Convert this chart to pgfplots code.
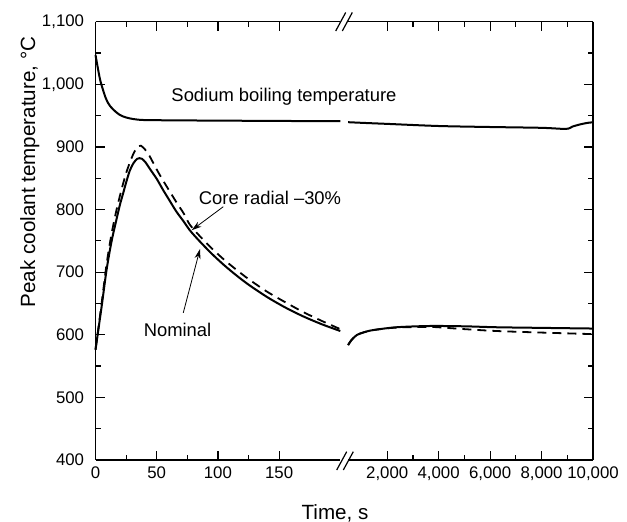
\documentclass[border=0pt]{standalone}
\usepackage{fontspec}
\setmainfont{Liberation Sans}
\usepackage{pgfplots}
\pgfplotsset{compat=1.18}
\usetikzlibrary{arrows.meta}

\begin{document}
\begin{tikzpicture}
\useasboundingbox (0pt,0pt) rectangle (313.5pt,261pt);
\pgfplotsset{
 brk/.style={
  scale only axis, height=219.15pt, ymin=400, ymax=1100,
  ytick={400,500,...,1100}, minor y tick num=1,
  yticklabels={400,500,600,700,800,900,{1,000},{1,100}},
  scaled ticks=false,
  tick align=inside, major tick length=4.5pt, minor tick length=2.5pt,
  axis line style={line width=0.75pt},
  every tick/.style={black, line width=0.6pt},
  every tick label/.append style={font=\fontsize{8.4}{10}\selectfont},
  yticklabel style={xshift=-2.2pt},
  clip=false,
 },
 nom/.style={black, line width=1pt, smooth, no marks},
 dsh/.style={black, line width=0.9pt, smooth, no marks, dash pattern=on 4.5pt off 3pt},
}
% left segment
\begin{axis}[brk, at={(47.75pt,31pt)}, anchor=south west, width=122.4pt,
  xmin=0, xmax=200, xtick={0,50,100,150}, minor x tick num=1,
  xticklabels={0,50,100,150},
  axis x line*=box, axis y line*=left]
\addplot[nom] coordinates {(0,1047) (2,1025) (3.8,1007) (6,992) (8,980) (10,971) (12,965) (16,957) (20,951) (25,947) (31,944.5) (39,943) (60,942.5) (100,942) (150,941.5) (200,941)};
\addplot[nom] coordinates {(0,576) (5,645) (9,703) (13,748) (17,783) (20,808) (22.6,826) (25,843) (28,862) (31,874) (34,881) (36,882) (38,881) (41,875) (44.4,865) (50,849) (55.3,831) (60,816) (66,797) (72,781) (77,767) (85,749.5) (95,729.4) (105,711.3) (115,695) (125,680.1) (140,660.5) (155,643.6) (170,629.1) (185,616.7) (200,606)};
\addplot[dsh] coordinates {(0,576) (5,650) (9,712) (13,760) (17,798) (21,830) (25,858) (29,880) (32,893) (35,901) (37,902) (40,897) (44,886) (50,864) (55,847) (60,831) (66,812) (72,794) (77,776) (85,758) (95,738) (105,720) (115,704) (125,689) (140,669) (155,652) (170,636) (185,622) (200,609)};
\node[font=\fontsize{9.2}{11}\selectfont, inner sep=0pt] at (axis cs:154,980) {Sodium boiling temperature};
\node[font=\fontsize{9.2}{11}\selectfont, inner sep=0pt] at (axis cs:142.6,818) {Core radial --30\%};
\node[font=\fontsize{9.2}{11}\selectfont, inner sep=0pt] at (axis cs:67,607.5) {Nominal};
\draw[-{Stealth[length=5pt,width=3pt]}, line width=0.4pt] (axis cs:104.4,804.5) -- (axis cs:78.6,767);
\draw[-{Stealth[length=5pt,width=3pt]}, line width=0.4pt] (axis cs:71.7,635) -- (axis cs:85.4,737);
\end{axis}
% right segment
\begin{axis}[brk, at={(174.05pt,31pt)}, anchor=south west, width=122.45pt,
  xmin=480, xmax=10000, xtick={2000,4000,6000,8000,10000}, minor x tick num=1,
  xticklabels={{2,000},{4,000},{6,000},{8,000},{10,000}},
  yticklabels={},
  axis x line*=box, axis y line*=right]
\addplot[nom] coordinates {(480,939.5) (1000,938.5) (2000,936.8) (4000,933.4) (6000,931.8) (8000,930.5) (8950,928.8) (9200,932.5) (9500,936) (9800,938.5) (10000,939.3)};
\addplot[nom] coordinates {(480,583.5) (600,591) (814,599.5) (1100,604) (1457,607.5) (2364,612) (3655,614) (5000,613.5) (6240,612) (8000,611) (9860,610) (10000,610)};
\addplot[dsh] coordinates {(480,583.5) (600,591) (814,599.5) (1100,604) (1457,607.5) (2364,611.5) (3655,612.5) (4300,611) (5000,609) (6240,606) (8000,603.5) (10000,601)};
\end{axis}
% axis break marks
\draw[line width=0.6pt] (168.35pt,26pt) -- (173.35pt,35.15pt) (171.65pt,26pt) -- (176.65pt,35.15pt);
\draw[line width=0.6pt] (167.85pt,245.5pt) -- (172.85pt,254.75pt) (171.15pt,245.5pt) -- (176.15pt,254.75pt);
% axis labels
\node[font=\fontsize{10.3}{12}\selectfont, rotate=90, anchor=base, inner sep=0pt] at (17.5pt,175pt) {Peak coolant temperature, °C};
\node[font=\fontsize{10.3}{12}\selectfont, anchor=base, inner sep=0pt] at (167.5pt,1pt) {Time, s};
\end{tikzpicture}
\end{document}
